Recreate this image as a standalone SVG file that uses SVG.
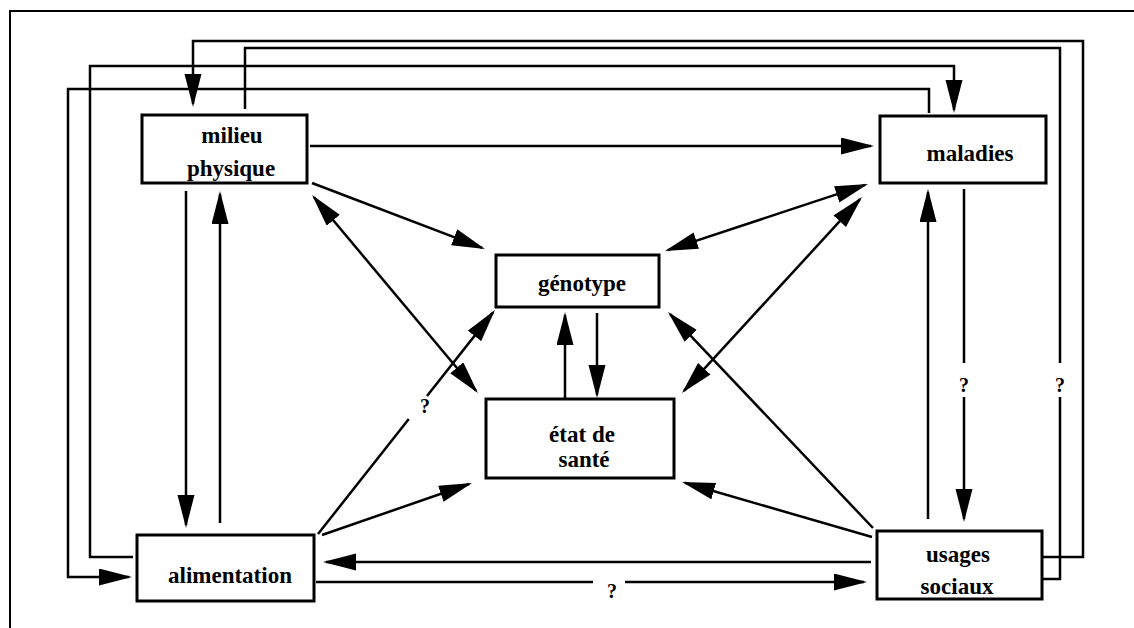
<svg xmlns="http://www.w3.org/2000/svg" width="1134" height="628" viewBox="0 0 1134 628">
<style>
  .box { fill: #fff; stroke: #000; stroke-width: 3; }
  .lbl { font-family: "Liberation Serif", "Times New Roman", serif; font-weight: bold; font-size: 23px; text-anchor: middle; fill: #000; }
  .q { font-family: "Liberation Serif", "Times New Roman", serif; font-weight: bold; font-size: 20px; text-anchor: middle; fill: #000; }
  .c { fill: none; stroke: #000; stroke-width: 2.5; stroke-linejoin: miter; }
  .a { marker-end: url(#arr); }
  .aa { marker-start: url(#arr); marker-end: url(#arr); }
</style>
<defs>
  <marker id="arr" markerUnits="userSpaceOnUse" markerWidth="34" markerHeight="18" refX="30" refY="8.5" orient="auto-start-reverse">
    <path d="M0,0 L33,8.5 L0,17 z" fill="#000"/>
  </marker>
</defs>
<rect width="1134" height="628" fill="#fff"/>
<path id="frame" d="M10,628 V11 H1134" fill="none" stroke="#000" stroke-width="2"/>

<g id="connectors">
  <path class="c a" d="M310,146 H871"/>
  <path class="c a" d="M186,191 V525"/>
  <path class="c a" d="M220,523 V194"/>
  <path class="c" d="M964,189 V363"/>
  <path class="c a" d="M964,397 V519"/>
  <path class="c a" d="M928,519 V192"/>
  <path class="c a" d="M871,562 H326"/>
  <path class="c" d="M316,582 H593"/>
  <path class="c a" d="M625,582 H864"/>
  <path class="c a" d="M312,183 L482.2,247.9"/>
  <path class="c aa" d="M314,197.3 L476,390.7"/>
  <path class="c aa" d="M865.2,184.9 L667.8,250.1"/>
  <path class="c aa" d="M860,199.2 L684,390.8"/>
  <path class="c" d="M318,534 L408.8,419"/>
  <path class="c a" d="M427,396 L493.1,312.4"/>
  <path class="c a" d="M322,535 L469.2,484"/>
  <path class="c a" d="M873,528 L670.1,314.2"/>
  <path class="c a" d="M872,537 L684.9,482.8"/>
  <path class="c a" d="M597,313 V395"/>
  <path class="c a" d="M565,398 V315"/>
  <path class="c a" d="M1043,557 H1083 V41 H193 V104"/>
  <path class="c" d="M245,109 V48 H1060 V363"/>
  <path class="c a" d="M1060,397 V579 H1008"/>
  <path class="c a" d="M133,557 H90 V66 H954 V110"/>
  <path class="c a" d="M929,113 V89 H68 V577 H129"/>
  <text class="q" x="964" y="392">?</text>
  <text class="q" x="1060" y="392">?</text>
  <text class="q" x="612" y="598">?</text>
  <text class="q" x="425" y="413">?</text>
</g>

<g id="milieu">
  <rect class="box" x="142" y="115" width="165" height="68"/>
  <text class="lbl" x="232" y="143">milieu</text>
  <text class="lbl" x="231" y="176">physique</text>
</g>
<g id="maladies">
  <rect class="box" x="880" y="116" width="166" height="67"/>
  <text class="lbl" x="970" y="161">maladies</text>
</g>
<g id="genotype">
  <rect class="box" x="496" y="255" width="163" height="52"/>
  <text class="lbl" x="582" y="291">génotype</text>
</g>
<g id="etat">
  <rect class="box" x="486" y="399" width="188" height="79"/>
  <text class="lbl" x="582" y="442">état de</text>
  <text class="lbl" x="584" y="467">santé</text>
</g>
<g id="alimentation">
  <rect class="box" x="137" y="535" width="177" height="66"/>
  <text class="lbl" x="230" y="583">alimentation</text>
</g>
<g id="usages">
  <rect class="box" x="877" y="531" width="165" height="68"/>
  <text class="lbl" x="958" y="562">usages</text>
  <text class="lbl" x="957" y="594">sociaux</text>
</g>
</svg>
